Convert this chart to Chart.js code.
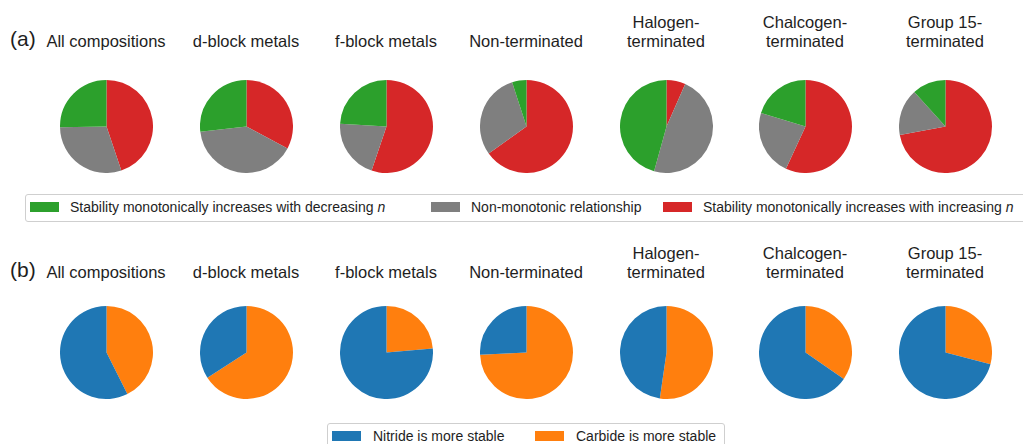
<!DOCTYPE html>
<html>
<head>
<meta charset="utf-8">
<script src="https://cdn.jsdelivr.net/npm/chart.js@4/dist/chart.umd.min.js"></script>
<style>
  html, body { margin: 0; padding: 0; background: #fff; }
  body { width: 1023px; height: 444px; position: relative; overflow: hidden;
         font-family: "Liberation Sans", Arial, sans-serif; color: #1e1e1e; }
  .t { position: absolute; white-space: nowrap; transform: translate(-50%, -50%); font-size: 16.5px; line-height: 19px; }
  .panel { position: absolute; white-space: nowrap; transform: translateY(-50%); font-size: 21px; }
  canvas { position: absolute; }
  .legend { position: absolute; border: 1px solid #cfcfcf; border-radius: 3px; background: #fff; }
  .sw { position: absolute; width: 29px; height: 10px; transform: translateY(-50%); }
  .lt { position: absolute; white-space: nowrap; font-size: 14px; transform: translateY(-50%); }
</style>
</head>
<body>
<script>
// Subset titles (lines split where the title wraps)
const groups = [
  ["All compositions"],
  ["d-block metals"],
  ["f-block metals"],
  ["Non-terminated"],
  ["Halogen-", "terminated"],
  ["Chalcogen-", "terminated"],
  ["Group 15-", "terminated"]
];

// (a) share of compositions by trend of stability with n (%)
const decreasingN  = [25.2, 26.8, 24.1,  5.0, 45.7, 20.3, 11.7];
const nonMonotonic = [29.9, 40.4, 20.7, 29.9, 47.7, 22.8, 16.2];
const increasingN  = [44.8, 32.8, 55.2, 65.1,  6.6, 56.9, 72.1];

// (b) share of compositions by which phase is more stable (%)
const nitrideStable = [57.4, 34.1, 76.4, 25.8, 47.7, 65.4, 70.9];
const carbideStable = [42.6, 65.9, 23.6, 74.2, 52.3, 34.6, 29.1];

const legendA = ["Stability monotonically increases with decreasing ", "Non-monotonic relationship", "Stability monotonically increases with increasing "];
const legendB = ["Nitride is more stable", "Carbide is more stable"];
const panelLabels = ["(a)", "(b)"];

const GREEN = "#2ca02c", GRAY = "#7f7f7f", RED = "#d62728", BLUE = "#1f77b4", ORANGE = "#ff7f0e";

const colX = [106, 246, 386, 526, 666, 805, 945];
const rowY = [126.5, 352];
const titleY = [41, 271.5];
const D = 93;

function addText(cls, txt, x, y, italicTail) {
  const d = document.createElement("div");
  d.className = cls;
  d.textContent = txt;
  if (italicTail) { const i = document.createElement("i"); i.textContent = italicTail; d.appendChild(i); }
  d.style.left = x + "px"; d.style.top = y + "px";
  document.body.appendChild(d);
  return d;
}

function pie(x, y, values, colors) {
  const c = document.createElement("canvas");
  c.width = D; c.height = D;
  c.style.left = (x - D / 2) + "px"; c.style.top = (y - D / 2) + "px";
  document.body.appendChild(c);
  new Chart(c, {
    type: "pie",
    data: { datasets: [{ data: values, backgroundColor: colors, borderWidth: 0 }] },
    options: {
      responsive: false, animation: false, devicePixelRatio: 1,
      layout: { padding: 0 },
      plugins: { legend: { display: false }, tooltip: { enabled: false } },
      events: []
    }
  });
}

// panel letters
addText("panel", panelLabels[0], 10, titleY[0] - 2);
addText("panel", panelLabels[1], 10, titleY[1] - 2);

// titles for both rows
for (let r = 0; r < 2; r++) {
  groups.forEach((lines, i) => {
    lines.forEach((ln, k) => {
      addText("t", ln, colX[i], titleY[r] - (lines.length - 1 - k) * 19);
    });
  });
}

// pies: slices run clockwise from 12 o'clock
groups.forEach((g, i) => {
  pie(colX[i], rowY[0], [increasingN[i], nonMonotonic[i], decreasingN[i]], [RED, GRAY, GREEN]);
  pie(colX[i], rowY[1], [carbideStable[i], nitrideStable[i]], [ORANGE, BLUE]);
});

// legend (a)
const la = document.createElement("div");
la.className = "legend";
Object.assign(la.style, { left: "25px", top: "194px", width: "1010px", height: "26px" });
document.body.appendChild(la);
const aSw = [30, 431, 663], aCol = [GREEN, GRAY, RED], aIt = ["n", null, "n"];
legendA.forEach((txt, i) => {
  const s = document.createElement("div"); s.className = "sw";
  Object.assign(s.style, { left: aSw[i] + "px", top: "207px", background: aCol[i] });
  document.body.appendChild(s);
  addText("lt", txt, aSw[i] + 40, 207, aIt[i]);
});

// legend (b)
const lb = document.createElement("div");
lb.className = "legend";
Object.assign(lb.style, { left: "327px", top: "423px", width: "396px", height: "30px" });
document.body.appendChild(lb);
const bSw = [332, 535], bCol = [BLUE, ORANGE];
legendB.forEach((txt, i) => {
  const s = document.createElement("div"); s.className = "sw";
  Object.assign(s.style, { left: bSw[i] + "px", top: "436px", background: bCol[i] });
  document.body.appendChild(s);
  addText("lt", txt, bSw[i] + 41, 436);
});
</script>
</body>
</html>
